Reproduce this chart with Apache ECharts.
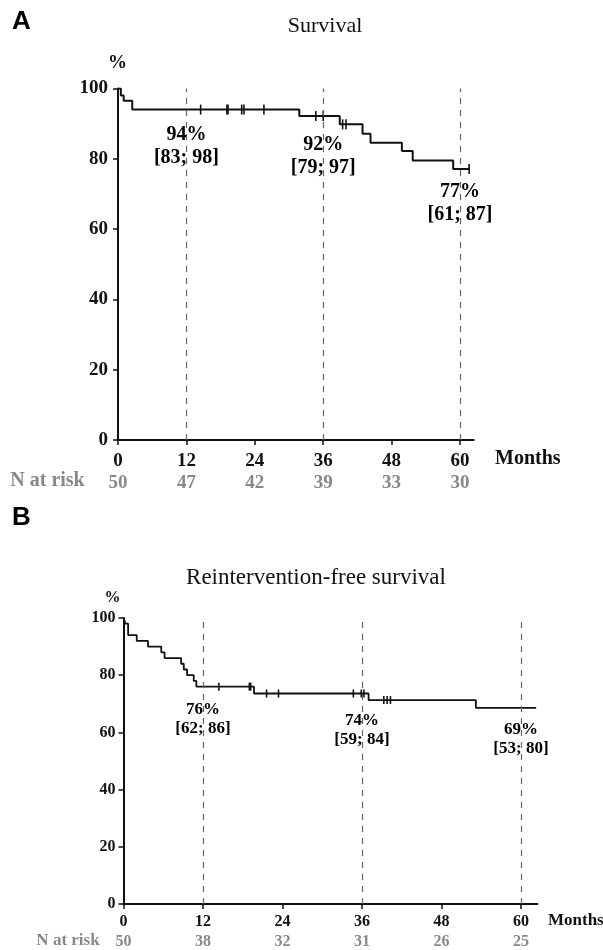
<!DOCTYPE html>
<html>
<head>
<meta charset="utf-8">
<script src="https://cdn.jsdelivr.net/npm/echarts@6/dist/echarts.min.js"></script>
<style>
html,body{margin:0;padding:0;background:#fff;}
#chart{width:603px;height:950px;}
</style>
</head>
<body>
<div id="chart"></div>
<script>
// ---------- data ----------
const xTicks = [0, 12, 24, 36, 48, 60];
const yTicks = [0, 20, 40, 60, 80, 100];

// Panel A: overall survival (Kaplan-Meier steps)
const timesA = [0, 0.5, 1, 2.5, 31.8, 38.9, 42.9, 44.3, 49.8, 51.7, 58.8, 61.6];
const survA  = [100, 98, 96.5, 94, 92.2, 89.8, 87.1, 84.6, 82.2, 79.5, 77.1, 77.1];
const censorA = [14.5, 19.1, 19.3, 21.7, 22.1, 25.6, 34.7, 36.0, 39.4, 40.0, 61.6];
const nRiskA = [50, 47, 42, 39, 33, 30];
const estTimes = [12, 36, 60];
const estA  = [94, 92, 77];
const lowA  = [83, 79, 61];
const highA = [98, 97, 87];

// Panel B: reintervention-free survival
const timesB = [0, 0.3, 0.7, 2.0, 3.7, 5.7, 6.2, 8.7, 9.1, 9.6, 10.6, 11.0, 19.7, 37.0, 53.2, 62.3];
const survB  = [100, 98, 94, 92, 90, 88, 86, 84, 82, 80, 78, 76, 73.6, 71.3, 68.6, 68.6];
const censorB = [14.4, 19.0, 19.2, 21.6, 23.4, 34.7, 35.9, 36.3, 39.3, 39.8, 40.3];
const nRiskB = [50, 38, 32, 31, 26, 25];
const estB  = [76, 74, 69];
const lowB  = [62, 59, 53];
const highB = [86, 84, 80];

// ---------- helpers ----------
function stepAt(times, vals, t) {
  let v = vals[0];
  for (let i = 0; i < times.length; i++) { if (times[i] <= t) v = vals[i]; }
  return v;
}
const serif = 'Liberation Serif, Times New Roman, serif';

const cfg = [
  {grid:{left:118, top:88.5, width:355.7, height:351.5}, xmax:62.4, fs:19, afs:20, lh:23,
   tickMargin:12, riskOffset:30, riskMargin:3.5, yMargin:10, lw:2,
   times:timesA, surv:survA, censor:censorA, nrisk:nRiskA, est:estA, lo:lowA, hi:highA,
   dist:[14, 17, 11], censorH:10},
  {grid:{left:123.5, top:618, width:414, height:287}, xmax:62.5, fs:16, afs:17, lh:19,
   tickMargin:10, riskOffset:26, riskMargin:4, yMargin:8, lw:1.8,
   times:timesB, surv:survB, censor:censorB, nrisk:nRiskB, est:estB, lo:lowB, hi:highB,
   dist:[13.5, 19, 13], censorH:8}
];

const grid = [], xAxis = [], yAxis = [], series = [];
cfg.forEach((c, i) => {
  grid.push(c.grid);
  xAxis.push({
    type:'value', gridIndex:i, min:0, max:c.xmax, interval:12,
    splitLine:{show:false},
    axisLine:{show:true, onZero:false, lineStyle:{color:'#111', width:2}},
    axisTick:{show:true, length:5, lineStyle:{color:'#111', width:1.5}, customValues:xTicks},
    axisLabel:{customValues:xTicks, color:'#111', fontFamily:serif, fontWeight:'bold', fontSize:c.fs, margin:c.tickMargin}
  });
  xAxis.push({
    type:'value', gridIndex:i, min:0, max:c.xmax, position:'bottom', offset:c.riskOffset,
    splitLine:{show:false}, axisLine:{show:false}, axisTick:{show:false},
    axisLabel:{customValues:xTicks, color:'#888', fontFamily:serif, fontWeight:'bold', fontSize:c.fs, margin:c.riskMargin,
      formatter:(v) => { const k = xTicks.indexOf(Math.round(v)); return k >= 0 ? String(c.nrisk[k]) : ''; }}
  });
  yAxis.push({
    type:'value', gridIndex:i, min:0, max:100, interval:20,
    splitLine:{show:false},
    axisLine:{show:true, lineStyle:{color:'#111', width:2}},
    axisTick:{show:true, length:5, lineStyle:{color:'#111', width:1.5}},
    axisLabel:{color:'#111', fontFamily:serif, fontWeight:'bold', fontSize:c.fs, margin:c.yMargin}
  });
  series.push({
    type:'line', xAxisIndex:i*2, yAxisIndex:i, step:'end', symbol:'none',
    lineStyle:{color:'#111', width:c.lw}, silent:true, z:3,
    data:c.times.map((t, k) => [t, c.surv[k]]),
    markLine:{
      silent:true, symbol:'none', label:{show:false},
      lineStyle:{color:'#666', type:[6, 6], width:1.2},
      data:estTimes.map(t => ({xAxis:t}))
    }
  });
  series.push({
    type:'scatter', xAxisIndex:i*2, yAxisIndex:i, symbol:'rect', symbolSize:[1.6, c.censorH],
    itemStyle:{color:'#111', opacity:1}, silent:true, z:4,
    data:c.censor.map(t => [t, stepAt(c.times, c.surv, t)])
  });
  series.push({
    type:'scatter', xAxisIndex:i*2, yAxisIndex:i, symbolSize:0, itemStyle:{color:'#000', opacity:1}, silent:true, z:5,
    data:estTimes.map((t, k) => ({
      value:[t, c.est[k]],
      label:{show:true, position:'bottom', distance:c.dist[k],
        formatter:c.est[k] + '%\n[' + c.lo[k] + '; ' + c.hi[k] + ']',
        color:'#000', opacity:1, fontFamily:serif, fontWeight:'bold', fontSize:c.afs, lineHeight:c.lh, align:'center'}
    }))
  });
});

const graphic = [
  {type:'text', left:12, top:9, style:{text:'A', font:'bold 26px Liberation Sans, Arial, sans-serif', fill:'#000'}},
  {type:'text', left:12, top:505, style:{text:'B', font:'bold 26px Liberation Sans, Arial, sans-serif', fill:'#000'}},
  {type:'text', x:325, y:26, style:{text:'Survival', font:'22px ' + serif, fill:'#111', align:'center', verticalAlign:'middle'}},
  {type:'text', x:316, y:578, style:{text:'Reintervention-free survival', font:'23px ' + serif, fill:'#111', align:'center', verticalAlign:'middle'}},
  {type:'text', x:117.5, y:63, style:{text:'%', font:'bold 19px ' + serif, fill:'#111', align:'center', verticalAlign:'middle'}},
  {type:'text', x:112.5, y:597.5, style:{text:'%', font:'bold 16px ' + serif, fill:'#111', align:'center', verticalAlign:'middle'}},
  {type:'text', x:495, y:459, style:{text:'Months', font:'bold 20px ' + serif, fill:'#111', align:'left', verticalAlign:'middle'}},
  {type:'text', x:548, y:921, style:{text:'Months', font:'bold 17px ' + serif, fill:'#111', align:'left', verticalAlign:'middle'}},
  {type:'text', x:47.5, y:481, style:{text:'N at risk', font:'bold 20px ' + serif, fill:'#888', align:'center', verticalAlign:'middle'}},
  {type:'text', x:68, y:941, style:{text:'N at risk', font:'bold 17px ' + serif, fill:'#888', align:'center', verticalAlign:'middle'}}
];

const chart = echarts.init(document.getElementById('chart'), null, {renderer:'canvas'});
chart.setOption({animation:false, backgroundColor:'#fff', grid, xAxis, yAxis, series, graphic});
</script>
</body>
</html>
